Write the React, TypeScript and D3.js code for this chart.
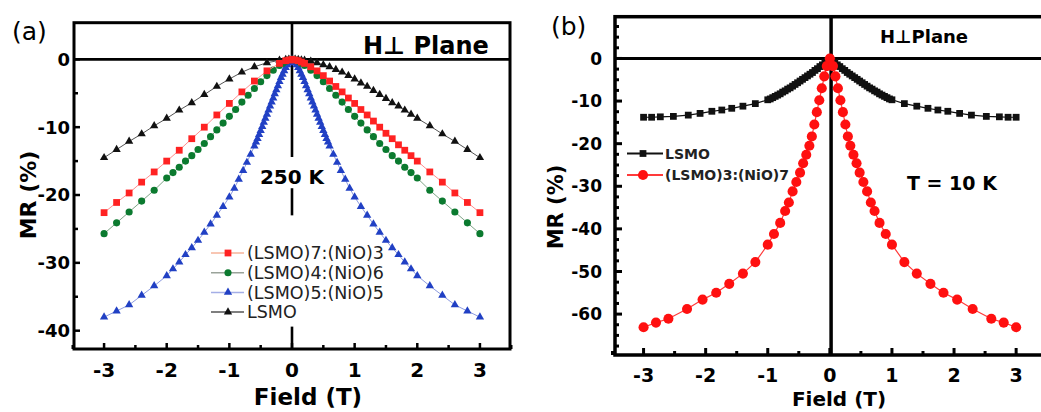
import React from "react";
import * as d3 from "d3";

// ---- panel (a): MR vs field at 250 K (|H| grids, both sweeps) ----
const fieldFine = [0, 0.05, 0.1, 0.15, 0.2, 0.3, 0.4, 0.5, 0.6, 0.7, 0.8, 0.9, 1.0, 1.1, 1.2, 1.3, 1.4, 1.5, 1.6, 1.7, 1.8, 1.9, 2.0, 2.2, 2.4, 2.6, 2.8, 3.0];
const fieldCoarse = [0, 0.05, 0.1, 0.2, 0.4, 0.6, 0.8, 1.0, 1.2, 1.4, 1.6, 1.8, 2.0, 2.2, 2.4, 2.6, 2.8, 3.0];

const red73Fine = [0, -0.1, -0.2, -0.4, -0.6, -1.1, -1.7, -2.4, -3.2, -4.0, -4.8, -5.7, -6.5, -7.4, -8.2, -9.1, -10.0, -10.9, -11.7, -12.6, -13.4, -14.2, -15.0, -16.6, -18.1, -19.7, -21.1, -22.6];
const red73Coarse = [0, -0.1, -0.2, -0.6, -1.7, -3.2, -4.8, -6.5, -8.2, -10.0, -11.7, -13.4, -15.0, -16.6, -18.1, -19.7, -21.1, -22.6];
const green46Fine = [0, -0.1, -0.3, -0.6, -0.9, -1.6, -2.4, -3.3, -4.3, -5.3, -6.3, -7.4, -8.4, -9.4, -10.4, -11.4, -12.4, -13.3, -14.2, -15.0, -15.9, -16.7, -17.5, -19.3, -20.9, -22.5, -24.1, -25.7];
const lsmoAFine = [0, 0, -0.05, -0.1, -0.15, -0.3, -0.5, -0.8, -1.1, -1.5, -1.9, -2.4, -2.9, -3.5, -4.0, -4.6, -5.2, -5.8, -6.4, -6.9, -7.5, -8.1, -8.7, -9.8, -11.0, -12.1, -13.3, -14.5];
const lsmoACoarse = [0, 0, -0.05, -0.15, -0.5, -1.1, -1.9, -2.9, -4.0, -5.2, -6.4, -7.5, -8.7, -9.8, -11.0, -12.1, -13.3, -14.5];

const fieldBlue = [0, 0.025, 0.05, 0.075, 0.1, 0.125, 0.15, 0.175, 0.2, 0.225, 0.25, 0.275, 0.3, 0.325, 0.35, 0.375, 0.4, 0.425, 0.45, 0.475, 0.5, 0.525, 0.55, 0.575, 0.6, 0.66, 0.72, 0.78, 0.85, 0.92, 1.0, 1.1, 1.2, 1.3, 1.4, 1.5, 1.6, 1.7, 1.8, 1.9, 2.0, 2.2, 2.4, 2.6, 2.8, 3.0];
const blue55 = [0, -0.2, -0.5, -0.8, -1.2, -1.7, -2.2, -2.7, -3.3, -3.9, -4.5, -5.1, -5.7, -6.3, -6.9, -7.5, -8.1, -8.7, -9.3, -9.9, -10.5, -11.1, -11.7, -12.2, -12.8, -14.0, -15.2, -16.4, -17.7, -19.0, -20.3, -21.7, -23.0, -24.3, -25.5, -26.7, -27.8, -28.8, -29.9, -30.9, -31.9, -33.4, -34.8, -36.2, -37.1, -38.0];

const legendA = ["(LSMO)7:(NiO)3", "(LSMO)4:(NiO)6", "(LSMO)5:(NiO)5", "LSMO"];

// ---- panel (b): MR vs field at 10 K ----
const fieldLsmoB = [0, 0.04, 0.08, 0.12, 0.16, 0.2, 0.24, 0.28, 0.32, 0.36, 0.4, 0.44, 0.48, 0.52, 0.56, 0.6, 0.64, 0.68, 0.72, 0.76, 0.8, 0.84, 0.88, 0.92, 0.96, 1.0, 1.2, 1.4, 1.58, 1.74, 1.9, 2.09, 2.28, 2.52, 2.73, 2.87, 3.0];
const lsmoB = [0, -0.5, -1.0, -1.5, -1.9, -2.4, -2.8, -3.3, -3.7, -4.1, -4.5, -4.9, -5.3, -5.7, -6.1, -6.5, -6.9, -7.2, -7.6, -7.9, -8.3, -8.6, -8.9, -9.2, -9.5, -9.7, -10.6, -11.2, -11.7, -12.1, -12.4, -12.9, -13.3, -13.6, -13.7, -13.8, -13.8];

const fieldRedB = [0, 0.05, 0.09, 0.13, 0.17, 0.21, 0.25, 0.29, 0.33, 0.38, 0.43, 0.48, 0.54, 0.6, 0.66, 0.72, 0.8, 0.9, 1.0, 1.2, 1.4, 1.62, 1.83, 2.05, 2.3, 2.6, 2.8, 3.0];
const red37B = [0, -1.8, -4.2, -7.0, -9.8, -12.6, -15.5, -18.3, -20.5, -22.6, -24.6, -26.8, -29.0, -31.2, -33.8, -35.8, -38.6, -41.2, -43.7, -47.8, -50.5, -52.9, -55.0, -56.6, -58.8, -61.1, -62.0, -63.1];

const legendB = ["LSMO", "(LSMO)3:(NiO)7"];

const FONT = "'DejaVu Sans', Verdana, sans-serif";

const sweep = (fl: number[], vl: number[], fr: number[], vr: number[]) => {
  const left = fl.map((f, i) => [-f, vl[i]]).reverse();
  const right = fr.map((f, i) => [f, vr[i]]).slice(1);
  return left.concat(right) as [number, number][];
};

const sym = (type: d3.SymbolType, size: number) => d3.symbol().type(type).size(size)() as string;

export default function App() {
  // panel (a) scales
  const xA = d3.scaleLinear().domain([-3.48, 3.48]).range([74, 510]);
  const yA = d3.scaleLinear().domain([5.4, -42.7]).range([22.7, 349]);
  // panel (b) scales
  const xB = d3.scaleLinear().domain([-3.46, 3.46]).range([615, 1044.7]);
  const yB = d3.scaleLinear().domain([9.8, -69.6]).range([16.7, 355]);

  const seriesA = [
    { pts: sweep(fieldBlue, blue55, fieldBlue, blue55), color: "#2140c4", line: "#8d9be0", shape: sym(d3.symbolTriangle, 30), legLine: "#a4aee6" },
    { pts: sweep(fieldCoarse, lsmoACoarse, fieldFine, lsmoAFine), color: "#111", line: "#555", shape: sym(d3.symbolTriangle, 30), legLine: "#555" },
    { pts: sweep(fieldFine, green46Fine, fieldFine, green46Fine), color: "#0b7a2f", line: "#7fa487", shape: sym(d3.symbolCircle, 40), legLine: "#9aa39a" },
    { pts: sweep(fieldCoarse, red73Coarse, fieldFine, red73Fine), color: "#ff2222", line: "#ff8f8f", shape: sym(d3.symbolSquare, 46), legLine: "#f6b39a" },
  ];
  const legendOrderA = [3, 2, 0, 1];

  const seriesB = [
    { pts: sweep(fieldLsmoB, lsmoB, fieldLsmoB, lsmoB), color: "#111", line: "#111", shape: sym(d3.symbolSquare, 46) },
    { pts: sweep(fieldRedB, red37B, fieldRedB, red37B), color: "#ff1010", line: "#ff3a3a", shape: sym(d3.symbolCircle, 80) },
  ];

  const lineA = d3.line<[number, number]>().x((d) => xA(d[0])).y((d) => yA(d[1]));
  const lineB = d3.line<[number, number]>().x((d) => xB(d[0])).y((d) => yB(d[1]));

  const xMajor = d3.range(-3, 3.01, 1);
  const xMinor = d3.range(-3.5, 3.51, 0.5).filter((v) => Math.abs(v % 1) > 0.1);
  const yMajorA = d3.range(0, -40.1, -10);
  const yMinorA = d3.range(-5, -40.1, -10);
  const yMajorB = d3.range(0, -60.1, -10);
  const yMinorB = d3.range(7.5, -68, -2.5).filter((v) => Math.abs(v % 10) > 0.1);

  // gaps in the vertical zero line of (a), behind "250 K" and the legend
  const vSegA = [[5.4, -14.4], [-19.0, -23.0], [-39.4, -42.7]];

  return (
    <svg width={1041} height={412} style={{ position: "absolute", left: 0, top: 0 }} fontFamily={FONT}>
      <rect width={1041} height={412} fill="#fff" />

      {/* ===== panel (a) ===== */}
      <g>
        <rect x={xA(-3.48)} y={yA(5.4)} width={xA(3.48) - xA(-3.48)} height={yA(-42.7) - yA(5.4)} fill="none" stroke="#000" strokeWidth={3} />
        <line x1={xA(-3.48)} x2={xA(3.48)} y1={yA(0)} y2={yA(0)} stroke="#000" strokeWidth={2.6} />
        {vSegA.map((s, i) => (
          <line key={i} x1={xA(0)} x2={xA(0)} y1={yA(s[0])} y2={yA(s[1])} stroke="#000" strokeWidth={2.6} />
        ))}
        {xMajor.map((v) => (
          <g key={"xa" + v}>
            <line x1={xA(v)} x2={xA(v)} y1={yA(-42.7)} y2={yA(-42.7) - 6} stroke="#000" strokeWidth={2.5} />
            <text x={xA(v)} y={377} textAnchor="middle" fontSize={20} fontWeight="bold">{v}</text>
          </g>
        ))}
        {xMinor.map((v) => (
          <line key={"xam" + v} x1={xA(v)} x2={xA(v)} y1={yA(-42.7)} y2={yA(-42.7) - 4} stroke="#000" strokeWidth={2.5} />
        ))}
        {yMajorA.map((v) => (
          <g key={"ya" + v}>
            <line x1={xA(-3.48)} x2={xA(-3.48) + 6} y1={yA(v)} y2={yA(v)} stroke="#000" strokeWidth={2.5} />
            <text x={70} y={yA(v)} dy="0.36em" textAnchor="end" fontSize={18} fontWeight="bold">{v}</text>
          </g>
        ))}
        {yMinorA.map((v) => (
          <line key={"yam" + v} x1={xA(-3.48)} x2={xA(-3.48) + 4} y1={yA(v)} y2={yA(v)} stroke="#000" strokeWidth={2.5} />
        ))}

        {seriesA.map((s, i) => (
          <g key={"sa" + i}>
            <path d={lineA(s.pts) as string} fill="none" stroke={s.line} strokeWidth={1} />
            {s.pts.map((p, j) => (
              <path key={j} d={s.shape} transform={`translate(${xA(p[0])},${yA(p[1])})`} fill={s.color} />
            ))}
          </g>
        ))}

        {legendOrderA.map((k, i) => {
          const s = seriesA[k];
          const y = 253 + i * 19.7;
          return (
            <g key={"la" + i}>
              <line x1={211} x2={244} y1={y} y2={y} stroke={s.legLine} strokeWidth={1.5} />
              <path d={s.shape} transform={`translate(228,${y})`} fill={s.color} />
              <text x={247} y={y} dy="0.36em" fontSize={17.5} fill="#222">{legendA[i]}</text>
            </g>
          );
        })}

        <text x={xA(0)} y={yA(-17.3)} dy="0.36em" textAnchor="middle" fontSize={20} fontWeight="bold">250 K</text>
        <text x={363} y={54} fontSize={24} fontWeight="bold">H⊥ Plane</text>
        <text x={12} y={40} fontSize={25}>(a)</text>
        <text transform={`translate(36,195) rotate(-90)`} textAnchor="middle" fontSize={22} fontWeight="bold">MR (%)</text>
        <text x={308} y={405} textAnchor="middle" fontSize={23} fontWeight="bold">Field (T)</text>
      </g>

      {/* ===== panel (b) ===== */}
      <g>
        <rect x={xB(-3.46)} y={yB(9.8)} width={xB(3.46) - xB(-3.46)} height={yB(-69.6) - yB(9.8)} fill="none" stroke="#000" strokeWidth={3.5} />
        <line x1={xB(-3.46)} x2={xB(3.46)} y1={yB(0)} y2={yB(0)} stroke="#000" strokeWidth={3} />
        <line x1={xB(0.02)} x2={xB(0.02)} y1={yB(9.8)} y2={yB(-69.6)} stroke="#000" strokeWidth={3.5} />
        {xMajor.map((v) => (
          <g key={"xb" + v}>
            <line x1={xB(v)} x2={xB(v)} y1={yB(-69.6)} y2={yB(-69.6) - 7} stroke="#000" strokeWidth={3} />
            <text x={xB(v)} y={382} textAnchor="middle" fontSize={19} fontWeight="bold">{v}</text>
          </g>
        ))}
        {xMinor.map((v) => (
          <line key={"xbm" + v} x1={xB(v)} x2={xB(v)} y1={yB(-69.6)} y2={yB(-69.6) - 4} stroke="#000" strokeWidth={3} />
        ))}
        {yMajorB.map((v) => (
          <g key={"yb" + v}>
            <line x1={xB(-3.46)} x2={xB(-3.46) + 7} y1={yB(v)} y2={yB(v)} stroke="#000" strokeWidth={3} />
            <text x={602} y={yB(v)} dy="0.36em" textAnchor="end" fontSize={17} fontWeight="bold">{v}</text>
          </g>
        ))}
        {yMinorB.map((v) => (
          <line key={"ybm" + v} x1={xB(-3.46)} x2={xB(-3.46) + 4} y1={yB(v)} y2={yB(v)} stroke="#000" strokeWidth={3} />
        ))}

        {seriesB.map((s, i) => (
          <g key={"sb" + i}>
            <path d={lineB(s.pts) as string} fill="none" stroke={s.line} strokeWidth={1.2} />
            {s.pts.map((p, j) => (
              <path key={j} d={s.shape} transform={`translate(${xB(p[0])},${yB(p[1])})`} fill={s.color} />
            ))}
          </g>
        ))}

        {seriesB.map((s, i) => {
          const y = 153.5 + i * 21.5;
          return (
            <g key={"lb" + i}>
              <line x1={627} x2={663} y1={y} y2={y} stroke={s.line} strokeWidth={2} />
              <path d={s.shape} transform={`translate(643,${y})`} fill={s.color} />
              <text x={665} y={y} dy="0.36em" fontSize={14} fontWeight="bold" fill="#222">{legendB[i]}</text>
            </g>
          );
        })}

        <text x={907} y={190} fontSize={19} fontWeight="bold">T = 10 K</text>
        <text x={880} y={43} fontSize={18} fontWeight="bold">H⊥Plane</text>
        <text x={551} y={35} fontSize={25}>(b)</text>
        <text transform={`translate(563,207) rotate(-90)`} textAnchor="middle" fontSize={21} fontWeight="bold">MR (%)</text>
        <text x={839} y={406} textAnchor="middle" fontSize={20} fontWeight="bold">Field (T)</text>
      </g>
    </svg>
  );
}
